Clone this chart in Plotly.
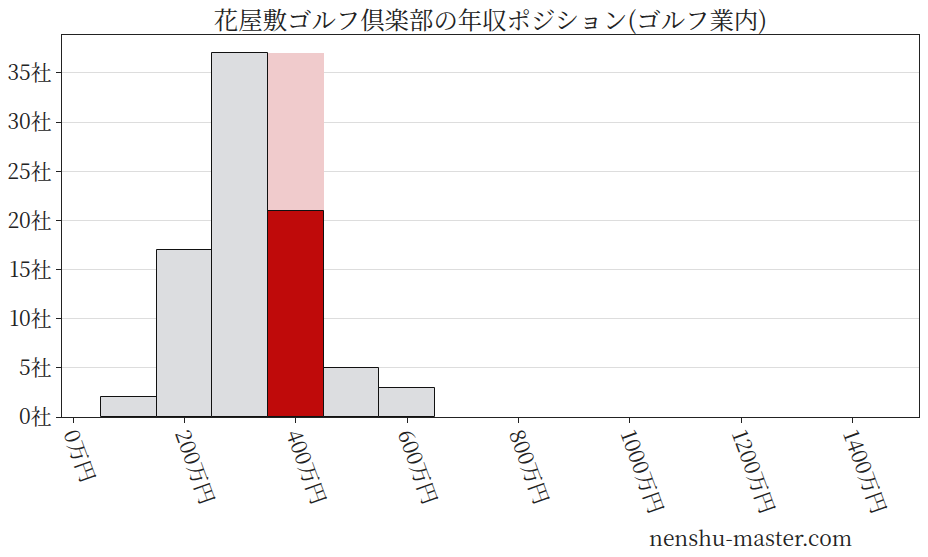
import plotly.graph_objects as go

# 年収の階級（万円、階級の中央値）と企業数
bin_centers = [100, 200, 300, 400, 500, 600]
counts = [2, 17, 37, 21, 5, 3]
bin_width = 100

# 対象企業がいる階級
target_bin = 400
target_count = 21
target_max = 37

x_ticks = [0, 200, 400, 600, 800, 1000, 1200, 1400]
x_labels = [f"{v}万円" for v in x_ticks]
y_ticks = [0, 5, 10, 15, 20, 25, 30, 35]
y_labels = [f"{v}社" for v in y_ticks]

title = "花屋敷ゴルフ倶楽部の年収ポジション(ゴルフ業内)"
font_family = "Noto Serif CJK JP, IPAMincho, Liberation Serif, DejaVu Serif, Noto Sans CJK JP, serif"

fig = go.Figure()

# 背景の薄い赤（その階級の最大値）
fig.add_trace(go.Bar(
    x=[target_bin], y=[target_max], width=bin_width,
    marker=dict(color="#f0cbcc", line=dict(width=0)),
    hoverinfo="skip", showlegend=False,
))

gray_x = [c for c in bin_centers if c != target_bin]
gray_y = [n for c, n in zip(bin_centers, counts) if c != target_bin]
fig.add_trace(go.Bar(
    x=gray_x, y=gray_y, width=bin_width,
    marker=dict(color="#dcdde0", line=dict(color="#111111", width=1)),
    showlegend=False,
))

fig.add_trace(go.Bar(
    x=[target_bin], y=[target_count], width=bin_width,
    marker=dict(color="#bf0a0a", line=dict(color="#111111", width=1)),
    showlegend=False,
))

fig.update_layout(
    width=928, height=557,
    barmode="overlay",
    bargap=0,
    plot_bgcolor="white",
    paper_bgcolor="white",
    margin=dict(l=62, r=9, t=35, b=140),
    font=dict(family=font_family, size=21, color="#222222"),
    title=dict(text=title, xref="paper", x=0.5, xanchor="center",
               y=0.963, yanchor="middle",
               font=dict(size=24.4, family=font_family, color="#222222")),
    annotations=[dict(
        text="nenshu-master.com", xref="paper", yref="paper",
        x=0.803, y=-0.314, xanchor="center", yanchor="middle",
        showarrow=False, font=dict(size=21, family=font_family, color="#222222"),
    )],
)

fig.update_xaxes(
    range=[-20, 1519], automargin=False,
    tickvals=x_ticks, ticktext=x_labels, tickangle=70,
    ticks="outside", ticklen=5, tickcolor="#222222",
    ticklabelstandoff=-8,
    showgrid=False, zeroline=False,
    showline=True, linecolor="#222222", linewidth=1, mirror=True,
    tickfont=dict(size=21),
)
fig.update_yaxes(
    range=[0, 38.85], automargin=False,
    tickvals=y_ticks, ticktext=y_labels,
    ticks="outside", ticklen=5, tickcolor="#222222",
    showgrid=True, gridcolor="#dddddd", gridwidth=1, zeroline=False,
    showline=True, linecolor="#222222", linewidth=1, mirror=True,
    tickfont=dict(size=21),
)

# ページの余白をなくして図を左上に合わせる
fig.write_html("out.html", config={"displayModeBar": False},
               post_script="document.body.style.margin='0';")
